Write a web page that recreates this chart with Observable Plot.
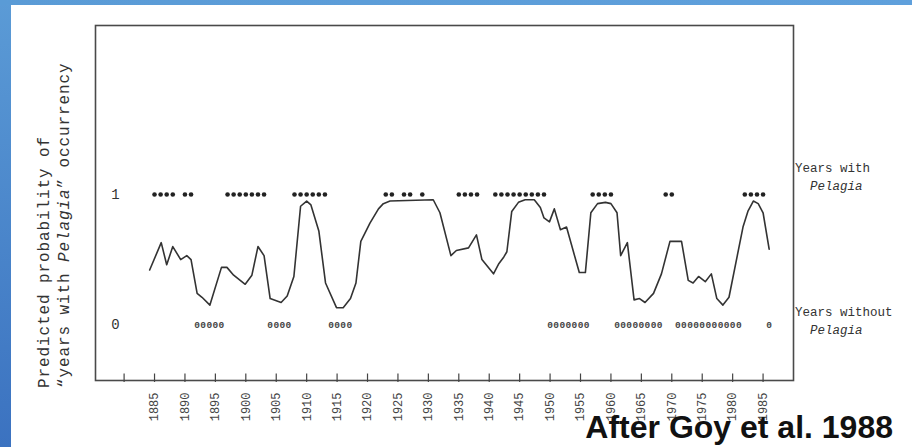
<!DOCTYPE html>
<html>
<head>
<meta charset="utf-8">
<script src="https://cdn.jsdelivr.net/npm/d3@7"></script>
<script src="https://cdn.jsdelivr.net/npm/@observablehq/plot@0.6"></script>
<style>
  html, body { margin: 0; padding: 0; background: #fff; }
  #page { position: relative; width: 912px; height: 447px; overflow: hidden; background: #fff; }
  #edge-left { position: absolute; left: 0; top: 0; width: 11px; height: 447px;
    background: linear-gradient(#5b9bd6, #3b72c0); }
  #edge-top { position: absolute; left: 0; top: 0; width: 912px; height: 5px;
    background: linear-gradient(90deg, #5a9bd6, #5fa0dc); }
  #chart { position: absolute; left: 0; top: 0; }
</style>
</head>
<body>
<div id="page">
  <div id="edge-left"></div>
  <div id="edge-top"></div>
  <div id="chart"></div>
</div>
<script>
// Predicted probability of a "Pelagia year", read year by year
const curveYears = [
  1884.2, 1886.1, 1887.0, 1888.0, 1889.3, 1890.3, 1891.0, 1892.0, 1892.8, 1894.1,
  1896.0, 1896.9, 1898.0, 1899.9, 1901.0, 1902.0, 1903.0, 1904.0, 1905.8, 1906.8,
  1907.9, 1909.0, 1910.0, 1910.7, 1912.0, 1913.1, 1914.9, 1916.0, 1917.2, 1918.1,
  1918.9, 1920.4, 1921.8, 1922.6, 1923.7, 1930.8, 1931.9, 1933.7, 1934.6, 1936.6,
  1937.9, 1938.8, 1940.7, 1941.6, 1942.4, 1942.9, 1943.7, 1944.8, 1945.9, 1947.4,
  1948.4, 1949.0, 1949.9, 1950.7, 1951.7, 1952.7, 1953.6, 1954.8, 1955.8, 1956.7,
  1957.8, 1959.1, 1960.0, 1961.0, 1961.6, 1962.7, 1963.8, 1964.7, 1965.6, 1967.0,
  1968.3, 1969.7, 1971.6, 1972.7, 1973.5, 1974.4, 1975.5, 1976.5, 1977.4, 1978.4,
  1979.4, 1981.7, 1982.5, 1983.4, 1984.2, 1985.0, 1986.0
];
const curveProbs = [
  0.42, 0.63, 0.46, 0.60, 0.50, 0.53, 0.50, 0.24, 0.21, 0.15,
  0.44, 0.44, 0.38, 0.31, 0.38, 0.60, 0.53, 0.20, 0.17, 0.22,
  0.37, 0.91, 0.95, 0.92, 0.72, 0.32, 0.13, 0.13, 0.20, 0.32,
  0.64, 0.78, 0.89, 0.93, 0.95, 0.96, 0.86, 0.53, 0.57, 0.59,
  0.69, 0.50, 0.39, 0.47, 0.52, 0.56, 0.87, 0.94, 0.96, 0.96,
  0.90, 0.82, 0.79, 0.89, 0.73, 0.75, 0.60, 0.40, 0.40, 0.86,
  0.93, 0.94, 0.93, 0.86, 0.53, 0.63, 0.19, 0.20, 0.17, 0.24,
  0.39, 0.64, 0.64, 0.34, 0.32, 0.37, 0.33, 0.39, 0.20, 0.15,
  0.21, 0.75, 0.87, 0.95, 0.93, 0.86, 0.58
];

// Observed years with Pelagia (value 1) and without (value 0)
const yearsWith = [
  1885, 1886, 1887, 1888, 1890, 1891,
  1897, 1898, 1899, 1900, 1901, 1902, 1903,
  1908, 1909, 1910, 1911, 1912, 1913,
  1923, 1924, 1926, 1927, 1929,
  1935, 1936, 1937, 1938,
  1941, 1942, 1943, 1944, 1945, 1946, 1947, 1948, 1949,
  1957, 1958, 1959, 1960,
  1969, 1970,
  1982, 1983, 1984, 1985
];
const yearsWithout = [
  1892, 1893, 1894, 1895, 1896,
  1904, 1905, 1906, 1907,
  1914, 1915, 1916, 1917,
  1950, 1951, 1952, 1953, 1954, 1955, 1956,
  1961, 1962, 1963, 1964, 1965, 1966, 1967, 1968,
  1971, 1972, 1973, 1974, 1975, 1976, 1977, 1978, 1979, 1980, 1981,
  1986
];

// Axis ticks
const tickYears = d3.range(1880, 1986, 5);
const labelYears = d3.range(1885, 1986, 5);
const probTicks = [0, 1];

const curve = curveYears.map((year, i) => ({year, p: curveProbs[i]}));
const mono = "'Liberation Mono', 'DejaVu Sans Mono', monospace";

const chart = Plot.plot({
  width: 912,
  height: 447,
  marginLeft: 95,
  marginRight: 119,
  marginTop: 25,
  marginBottom: 67,
  x: {domain: [1875.3, 1990], axis: null},
  y: {domain: [-0.43, 2.3], axis: null},
  style: {background: "none", fontFamily: mono, color: "#333"},
  marks: [
    Plot.frame({stroke: "#4a4a4a", strokeWidth: 1.6}),
    Plot.ruleX(tickYears, {y1: -0.38, y2: -0.445, stroke: "#444", strokeWidth: 1.2}),
    Plot.text(labelYears, {
      x: d => d, y: -0.43, text: d => String(d), rotate: -90,
      textAnchor: "end", dy: 12, fontSize: 12, fill: "#444",
      fontFamily: mono, letterSpacing: 1.5
    }),
    Plot.axisY(probTicks, {
      anchor: "left", tickSize: 0, tickPadding: 0, dx: 20, textAnchor: "middle",
      tickFormat: d => String(d),
      fontSize: 14, fill: "#333", fontFamily: mono, label: null
    }),
    Plot.line(curve, {x: "year", y: "p", stroke: "#333", strokeWidth: 1.6}),
    Plot.dot(yearsWith, {x: d => d, y: 1, r: 2.3, fill: "#222", stroke: "none"}),
    Plot.text(yearsWithout, {
      x: d => d, y: 0, text: () => "0", fontSize: 9.5, fontWeight: "bold",
      fill: "#444", fontFamily: mono
    })
  ]
});

document.getElementById("chart").appendChild(chart);

// Labels outside the frame: axis title, series notes and source line
const svg = d3.select(chart);

function monoText(x, y, parts, size, rotate) {
  const t = svg.append("text")
    .attr("text-anchor", "start")
    .attr("font-family", mono)
    .attr("font-size", size)
    .attr("fill", "#333");
  if (rotate) {
    t.attr("transform", `translate(${x},${y}) rotate(-90)`);
  } else {
    t.attr("x", x).attr("y", y);
  }
  for (const [str, italic] of parts) {
    t.append("tspan").attr("font-style", italic ? "italic" : null).text(str);
  }
  return t;
}

monoText(49, 388, [["Predicted probability of", false]], 16, true).attr("letter-spacing", 0.9);
monoText(69, 388, [["\u201Cyears with ", false], ["Pelagia", true], ["\u201D occurrency", false]], 16, true)
  .attr("letter-spacing", 0.9);

monoText(795, 172, [["Years with", false]], 12.5);
monoText(810, 190, [["Pelagia", true]], 12.5);
monoText(795, 316, [["Years without", false]], 12.5);
monoText(810, 334, [["Pelagia", true]], 12.5);

svg.append("text")
  .attr("x", 893).attr("y", 438)
  .attr("text-anchor", "end")
  .attr("font-family", "'Liberation Sans', Arial, sans-serif")
  .attr("font-weight", "bold")
  .attr("font-size", 32)
  .attr("fill", "#111")
  .text("After Goy et al. 1988");
</script>
</body>
</html>
